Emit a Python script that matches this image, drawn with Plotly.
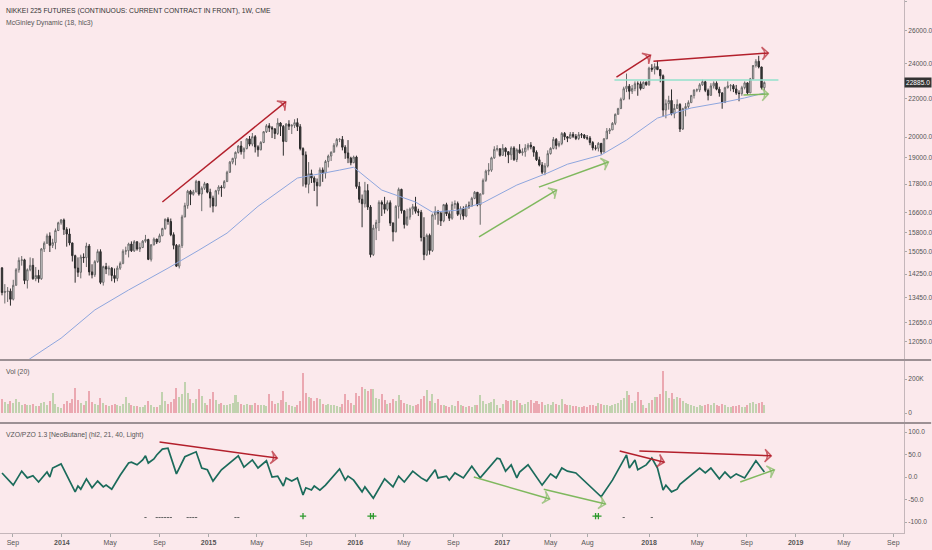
import math
import pandas as pd
import plotly.graph_objects as go

# ---- weekly bars (week starting 2013-08-05), open = previous close ----
first_open = 14470

closes_2013 = [13615, 13650, 13660, 13389, 13860, 14404, 14742, 14760, 14024, 14404, 14561,
               14088, 14201, 14086, 15165, 15381, 15661, 15299, 15403, 15870, 16178, 16291]
highs_2013 = [14500, 13900, 13800, 13750, 14050, 14460, 14850, 14900, 14800, 14450, 14850,
              14820, 14500, 14400, 15200, 15450, 15750, 15800, 15550, 15950, 16220, 16330]
lows_2013 = [13520, 13250, 13300, 13180, 13350, 13850, 14300, 14550, 13900, 13750, 14350,
             14050, 14000, 13950, 14050, 15050, 15350, 15050, 15200, 15150, 15850, 16100]

closes_2014 = [15912, 15734, 15391, 14914, 14462, 14313, 14865, 14841, 15274, 14327, 14224, 14696, 15063,
               13960, 14516, 14429, 14458, 14199, 14097, 14462, 14632, 15077, 15097, 15349, 15095, 15437,
               15164, 15215, 15457, 15523, 14778, 15318, 15539, 15424, 15668, 15948, 16321, 16229, 15708,
               15300, 14532, 15291, 16413, 16880, 17490, 17357, 17459, 17920, 17371, 17621, 17818, 17450]
highs_2014 = [16350, 16000, 15950, 15400, 14950, 14850, 14950, 15000, 15400, 15350, 14600, 14750, 15150,
              15150, 14550, 14650, 14550, 14500, 14450, 14550, 14700, 15150, 15250, 15400, 15450, 15500,
              15450, 15400, 15500, 15700, 15550, 15350, 15600, 15550, 15750, 15980, 16350, 16400, 16350,
              15800, 15350, 15350, 16500, 17000, 17550, 17550, 17550, 17990, 17950, 17700, 17900, 17850]
lows_2014 = [15700, 15250, 15300, 14700, 13950, 14150, 14100, 14650, 14500, 14200, 14100, 14150, 14650,
             13900, 13850, 14250, 14200, 14000, 13950, 14000, 14400, 14600, 14950, 14850, 15050, 15050,
             15100, 15050, 15200, 15400, 14750, 14700, 15300, 15350, 15400, 15650, 15900, 16100, 15650,
             15150, 14500, 14450, 15200, 16400, 16750, 16900, 17300, 17450, 17300, 16650, 17550, 17400]

closes_2015 = [17197, 16864, 17511, 17674, 17648, 17913, 18332, 18797, 18971, 19254, 19560, 19286, 19435,
               19908, 19652, 20020, 19520, 19380, 19733, 20264, 20563, 20461, 20407, 20174, 20706, 20540,
               19780, 20650, 20545, 20585, 20724, 20520, 19436, 19136, 17792, 18264, 18070, 17880, 17725,
               18438, 18291, 18825, 19083, 19265, 19597, 19879, 19883, 19504, 19230, 18986, 18769, 19033]
highs_2015 = [17600, 17300, 17550, 17750, 17750, 17980, 18400, 18850, 19000, 19300, 19600, 19800, 19500,
              19950, 20050, 20200, 20100, 19600, 19800, 20300, 20650, 20700, 20550, 20450, 20950, 20750,
              20600, 20700, 20850, 20650, 20900, 20950, 20650, 19500, 19300, 18800, 18450, 18150, 18050,
              18550, 18550, 18900, 19150, 19300, 19700, 19950, 19950, 20050, 19600, 19850, 19050, 19100]
lows_2015 = [16800, 16600, 16850, 17350, 17250, 17600, 17900, 18300, 18700, 18650, 19200, 19150, 18950,
             19400, 19550, 19550, 19250, 19050, 19350, 19700, 20200, 20250, 19950, 19900, 20100, 20050,
             19100, 19750, 20350, 20150, 20450, 20300, 19350, 17700, 17650, 17400, 17850, 17500, 16850,
             17700, 17900, 18050, 18550, 18850, 19250, 19500, 19750, 19350, 18950, 18750, 18650, 18750]

closes_2016 = [17698, 17147, 16958, 17518, 16819, 14952, 15967, 16188, 17014, 16938, 16724, 17002, 16164,
               15821, 16848, 17572, 16666, 16106, 16412, 16736, 16834, 16642, 16601, 15599, 14952, 15682,
               15106, 16497, 16627, 16569, 16254, 16919, 16545, 16360, 16925, 16965, 16519, 16754, 16449,
               16860, 16856, 17184, 17446, 16905, 17374, 17968, 18381, 18426, 18996, 19401, 19428, 19114]
highs_2016 = [19100, 17900, 17350, 17900, 17800, 16900, 16100, 16300, 17100, 17100, 17250, 17100, 17100,
              16200, 16900, 17650, 17600, 16700, 16750, 16800, 16950, 17250, 16750, 16700, 16400, 15750,
              15750, 16550, 16850, 16700, 16650, 16950, 17000, 16650, 17050, 17100, 17050, 16850, 16850,
              16950, 17050, 17250, 17500, 17450, 17400, 18050, 18450, 18750, 19050, 19550, 19600, 19450]
lows_2016 = [17600, 17000, 16000, 16800, 16700, 14850, 14900, 15500, 15850, 16450, 16550, 16650, 16050,
             15450, 15800, 16350, 16550, 15950, 16050, 16300, 16500, 16550, 16450, 15450, 14750, 14900,
             14950, 15050, 16300, 16100, 16050, 16200, 16450, 16250, 16300, 16750, 16450, 16300, 16300,
             16400, 16750, 16850, 17150, 16850, 16100, 17350, 17900, 18200, 18350, 18950, 19300, 19050]

closes_2017 = [19454, 19287, 19137, 19467, 18918, 19378, 19234, 19283, 19469, 19604, 19521, 19262, 18909,
               18664, 18335, 18620, 19196, 19445, 19883, 19590, 19686, 20177, 20013, 19943, 20132, 20033,
               19929, 20118, 20099, 19959, 19952, 19729, 19470, 19452, 19691, 19274, 19909, 20296, 20356,
               20690, 21155, 21457, 21955, 22539, 22681, 22397, 22550, 22819, 22811, 22553, 22902, 22765]
highs_2017 = [19650, 19500, 19300, 19550, 19550, 19450, 19650, 19450, 19650, 19700, 19750, 19550, 19350,
              19050, 18800, 18750, 19350, 19500, 20000, 19950, 19800, 20250, 20250, 20050, 20250, 20250,
              20150, 20250, 20200, 20150, 20100, 20050, 19800, 19600, 19750, 19700, 19950, 20450, 20450,
              20750, 21200, 21500, 22050, 22650, 23400, 22800, 22750, 22950, 22950, 22950, 22950, 22950]
lows_2017 = [19100, 19050, 18750, 18900, 18850, 18800, 19200, 19100, 19050, 19350, 19400, 19050, 18850,
             18600, 18250, 18200, 18550, 19150, 19400, 19400, 19500, 19600, 19850, 19750, 19900, 19950,
             19850, 19850, 19950, 19900, 19850, 19600, 19350, 19350, 19300, 19150, 19250, 19900, 20150,
             20350, 20600, 21150, 21450, 21900, 22350, 21950, 22250, 22400, 22150, 22450, 22550, 22700]

closes_2018 = [23714, 23653, 23808, 23632, 23274, 21382, 21720, 21893, 21181, 21469, 21676, 20400, 21454,
               21567, 21778, 22162, 22467, 22472, 22758, 22930, 22450, 22171, 22694, 22851, 22516, 22304,
               21788, 22597, 22697, 22712, 22525, 22298, 22270, 22601, 22865, 22307, 23094, 23870, 24120,
               23784, 22600, 22885]
highs_2018 = [23800, 23950, 24000, 24150, 23650, 23350, 21950, 22150, 22500, 21700, 21950, 21750, 21500,
              21750, 21900, 22200, 22500, 22550, 22850, 23050, 23000, 22550, 22850, 22950, 22950, 22650,
              22350, 22650, 22950, 22800, 22800, 22750, 22450, 22700, 22950, 22900, 23150, 23900, 24250,
              24450, 23800, 22950]
lows_2018 = [22700, 23500, 23350, 23600, 22900, 21050, 20950, 21400, 21100, 20950, 21450, 20250, 20350,
             21050, 21450, 21750, 22000, 22350, 22350, 22700, 22350, 21900, 22150, 22550, 22450, 22100,
             21450, 21750, 22550, 22400, 22350, 22200, 21850, 22150, 22500, 22200, 22300, 23050, 23750,
             23700, 22500, 22450]

# weekly volume, thousands of contracts
volume_k = ([80, 62, 55, 70, 58, 85, 62, 48, 55, 50, 45, 52, 40, 44, 60, 65, 48, 72, 115, 52, 38, 30]
            + [55, 70, 60, 85, 145, 75, 60, 50, 70, 130, 65, 55, 50, 90, 60, 45, 40, 50, 55, 45, 40, 55,
               96, 60, 45, 40, 42, 38, 35, 45, 70, 50, 38, 35, 45, 121, 70, 55, 65, 80, 149, 95, 110, 180,
               120, 85, 60, 80, 139, 100, 60, 45]
            + [80, 125, 75, 55, 60, 50, 45, 55, 60, 106, 65, 55, 50, 55, 50, 45, 60, 50, 45, 50, 40, 110,
               70, 55, 60, 75, 129, 65, 45, 40, 38, 45, 70, 233, 120, 95, 86, 70, 86, 80, 55, 50, 55, 45,
               50, 40, 38, 55, 110, 75, 60, 45]
            + [120, 100, 151, 139, 130, 139, 139, 90, 85, 110, 75, 55, 60, 80, 70, 106, 75, 60, 55, 45,
               40, 50, 55, 80, 100, 135, 70, 110, 60, 82, 50, 45, 40, 35, 45, 40, 70, 45, 42, 38, 40, 36,
               45, 50, 106, 70, 55, 60, 65, 80, 45, 30]
            + [55, 76, 70, 76, 72, 76, 60, 50, 55, 65, 75, 60, 70, 55, 65, 50, 55, 45, 65, 55, 45, 80,
               55, 50, 45, 40, 42, 38, 35, 40, 36, 45, 50, 42, 60, 55, 50, 45, 40, 45, 55, 60, 75, 90,
               129, 106, 60, 70, 121, 75, 45, 30]
            + [60, 75, 96, 96, 110, 249, 129, 90, 115, 80, 95, 90, 70, 60, 55, 45, 40, 35, 45, 40, 50,
               55, 45, 60, 45, 40, 55, 45, 38, 35, 40, 42, 45, 35, 38, 45, 60, 65, 55, 60, 67, 50])

# McGinley Dynamic read at turning points (week index, price)
mcg_week = [6, 10, 21, 33, 45, 59, 70, 80, 91, 105, 120, 125, 135, 147, 153, 162, 171, 183, 194, 201,
            213, 222, 233, 245, 257, 264, 271]
mcg_val = [11300, 11560, 12160, 13040, 13700, 14460, 15120, 15770, 16850, 18070, 18430, 18560, 17540,
           17030, 16610, 16690, 17000, 17760, 18300, 18700, 19130, 19850, 20960, 21490, 21810, 22030, 22300]

# VZO line vertices (week index, value)
vzo_week = [0, 4, 7, 9, 11, 13, 16, 17, 18, 21, 26, 27, 28, 30, 32, 34, 36, 37, 39, 42,
            45, 46, 48, 50, 51, 52, 54, 55, 57, 59, 62, 65, 69, 71, 73, 75, 78, 81, 84, 86,
            89, 91, 94, 96, 98, 100, 101, 103, 105, 107, 108, 110, 111, 113, 115, 120, 122, 123, 125, 128,
            129, 132, 136, 139, 141, 143, 146, 149, 151, 154, 155, 158, 159, 161, 164, 167, 170, 176, 177, 179,
            181, 183, 184, 187, 192, 195, 197, 199, 201, 204, 213, 217, 222, 223, 225, 226, 229, 231, 233, 235,
            236, 238, 240, 241, 244, 248, 250, 252, 255, 257, 259, 261, 264, 268, 271]
vzo_val = [9, -18, 13, -2, 3, -11, 11, 0, 20, 29, -33, -20, -27, -4, -24, -9, -22, -18, -27, 4,
           31, 33, 27, 38, 47, 31, 40, 49, 62, 64, 7, 45, 56, 20, 16, -9, 16, 31, 47, 22,
           38, 20, 36, 0, 2, -20, -2, -9, -2, -40, -24, -29, -20, -29, -18, 18, -7, 2, -7, -33,
           -22, -47, -4, -22, 2, -11, 13, -2, -9, 16, -2, 2, -7, 9, -2, 24, -2, 42, 40, 13,
           27, -2, 11, 27, -18, 7, -2, 20, 13, 9, -44, -7, 49, 20, 38, 16, 27, 42, 20, -29,
           -18, -33, -27, -16, 0, 20, 9, 20, -4, 11, -2, 7, -2, 36, 11]
vzo_minus_weeks = [51, 55, 56, 57, 58, 59, 60, 66, 67, 68, 69, 83, 84]
vzo_plus_weeks = [107, 131, 132, 211, 212]
vzo_dot_weeks = [221, 231]

RED = "#b3202c"
GREEN = "#7fb85e"
price_arrows = [
    ("2014-09-08", 17030, "2015-07-12", 21820, RED),
    ("2017-10-12", 23200, "2018-01-05", 24490, RED),
    ("2018-01-12", 24130, "2018-10-25", 24620, RED),
    ("2018-08-24", 22190, "2018-10-25", 22240, GREEN),
    ("2016-11-04", 15620, "2017-05-16", 17540, GREEN),
    ("2017-04-02", 17670, "2017-09-22", 18800, GREEN),
]
osc_arrows = [
    ("2014-09-01", 78, "2015-06-21", 42, RED),
    ("2016-10-22", 0, "2017-04-29", -49, GREEN),
    ("2017-04-14", -27, "2017-09-15", -60, GREEN),
    ("2017-10-20", 58, "2018-02-08", 33, RED),
    ("2017-12-08", 58, "2018-11-01", 47, RED),
    ("2018-08-16", -11, "2018-11-09", 16, GREEN),
]
resistance = ("2017-10-07", "2018-11-19", 23030)
last_price = 22885

price_ticks = [12050, 12650, 13450, 14250, 15050, 15800, 16600, 17800, 19000, 20000, 22000, 24000, 26000, 28000]
date_ticks = ["2013-09-01", "2014-01-01", "2014-05-01", "2014-09-01", "2015-01-01", "2015-05-01", "2015-09-01",
              "2016-01-01", "2016-05-01", "2016-09-01", "2017-01-01", "2017-05-01", "2017-08-01", "2018-01-01",
              "2018-05-01", "2018-09-01", "2019-01-01", "2019-05-01", "2019-09-01"]
date_labels = ["Sep", "<b>2014</b>", "May", "Sep", "<b>2015</b>", "May", "Sep", "<b>2016</b>", "May", "Sep",
               "<b>2017</b>", "May", "Aug", "<b>2018</b>", "May", "Sep", "<b>2019</b>", "May", "Sep"]

closes = closes_2013 + closes_2014 + closes_2015 + closes_2016 + closes_2017 + closes_2018
highs = highs_2013 + highs_2014 + highs_2015 + highs_2016 + highs_2017 + highs_2018
lows = lows_2013 + lows_2014 + lows_2015 + lows_2016 + lows_2017 + lows_2018
opens = [first_open] + closes[:-1]
weeks = pd.date_range("2013-08-05", periods=len(closes), freq="7D")

BG = "#fbe9ec"
FONT = "Liberation Sans Narrow, Liberation Sans, Arial, sans-serif"

fig = go.Figure()

fig.add_trace(go.Candlestick(
    x=weeks, open=opens, high=highs, low=lows, close=closes,
    increasing=dict(line=dict(color="#6a6a6a", width=1), fillcolor="#ffffff"),
    decreasing=dict(line=dict(color="#2b2b2b", width=1), fillcolor="#3a3a3a"),
    xaxis="x", yaxis="y", showlegend=False, hoverinfo="skip"))

fig.add_trace(go.Scatter(x=weeks[mcg_week], y=mcg_val, mode="lines",
                         line=dict(color="#8ea6de", width=1), xaxis="x", yaxis="y",
                         showlegend=False, hoverinfo="skip"))

fig.add_trace(go.Scatter(x=[resistance[0], resistance[1]], y=[resistance[2], resistance[2]], mode="lines",
                         line=dict(color="#93e0cc", width=1.6), xaxis="x", yaxis="y",
                         showlegend=False, hoverinfo="skip"))


def add_arrow(a, yaxis, xaxis):
    fig.add_trace(go.Scatter(
        x=[a[0], a[2]], y=[a[1], a[3]], mode="lines+markers",
        line=dict(color=a[4], width=1.5),
        marker=dict(symbol="arrow-wide-open", size=[0, 9], angleref="previous",
                    color=a[4], line=dict(color=a[4], width=1.5)),
        xaxis=xaxis, yaxis=yaxis, showlegend=False, hoverinfo="skip"))


for a in price_arrows:
    add_arrow(a, "y", "x")

vol_colors = ["rgba(224,128,140,0.62)" if c < o else "rgba(155,195,135,0.6)" for o, c in zip(opens, closes)]
fig.add_trace(go.Bar(x=weeks, y=volume_k, marker=dict(color=vol_colors, line=dict(width=0)),
                     width=5 * 86400000, xaxis="x2", yaxis="y2", showlegend=False, hoverinfo="skip"))

fig.add_trace(go.Scatter(x=weeks[vzo_week], y=vzo_val, mode="lines",
                         line=dict(color="#1b6b5b", width=1.7), xaxis="x3", yaxis="y3",
                         showlegend=False, hoverinfo="skip"))
fig.add_trace(go.Scatter(x=weeks[vzo_minus_weeks], y=[-90] * len(vzo_minus_weeks), mode="markers",
                         marker=dict(symbol="line-ew", size=1.6, line=dict(color="#666", width=1)),
                         xaxis="x3", yaxis="y3", showlegend=False, hoverinfo="skip"))
fig.add_trace(go.Scatter(x=weeks[vzo_dot_weeks], y=[-90] * len(vzo_dot_weeks), mode="markers",
                         marker=dict(symbol="line-ew", size=1.6, line=dict(color="#666", width=1)),
                         xaxis="x3", yaxis="y3", showlegend=False, hoverinfo="skip"))
fig.add_trace(go.Scatter(x=weeks[vzo_plus_weeks], y=[-87] * len(vzo_plus_weeks), mode="markers",
                         marker=dict(symbol="cross-thin", size=4.5, line=dict(color="#2e9a2e", width=1.3)),
                         xaxis="x3", yaxis="y3", showlegend=False, hoverinfo="skip"))

for a in osc_arrows:
    add_arrow(a, "y3", "x3")

# pane geometry (plot area 533 px tall)
H = 533.0
dom_price = [(H - 359) / H, 1.0]
dom_vol = [(H - 422) / H, (H - 361) / H]
dom_osc = [0.0, (H - 424) / H]

xrange = ["2013-07-31", "2019-09-27 12:00"]
tickfont = dict(family=FONT, size=6.6, color="#555")
yax_common = dict(side="right", showline=True, linecolor="#c4b6ba", linewidth=1, ticks="outside",
                  ticklen=2, tickcolor="#aaa", tickfont=tickfont, showgrid=False,
                  zeroline=False, fixedrange=True)
xax_common = dict(range=xrange, type="date", showgrid=False,
                  tickvals=date_ticks, ticktext=date_labels, zeroline=False)

fig.update_layout(
    width=932, height=550,
    margin=dict(l=0, r=26, t=0, b=17),
    paper_bgcolor=BG, plot_bgcolor=BG,
    font=dict(family=FONT, size=7, color="#555"),
    bargap=0,
    xaxis=dict(**xax_common, anchor="y", domain=[0, 1], showticklabels=False,
               rangeslider=dict(visible=False)),
    xaxis2=dict(**xax_common, anchor="y2", domain=[0, 1], matches="x", showticklabels=False),
    xaxis3=dict(**xax_common, anchor="y3", domain=[0, 1], matches="x", showticklabels=True,
                tickfont=dict(family=FONT, size=7, color="#555"), ticks="outside", ticklen=3,
                tickcolor="#aaa", showline=True, linecolor="#c4b6ba"),
    yaxis=dict(**yax_common, domain=dom_price, type="log",
               range=[math.log10(11550), math.log10(28070)],
               tickvals=price_ticks, ticktext=[f"{v}.0" for v in price_ticks]),
    yaxis2=dict(**yax_common, domain=dom_vol, range=[-52.9, 305.9],
                tickvals=[0, 200], ticktext=["0", "200K"]),
    yaxis3=dict(**yax_common, domain=dom_osc, range=[-124.4, 117.8],
                tickvals=[-100, -50, 0, 50, 100], ticktext=["-100.0", "-50.0", "0.0", "50.0", "100.0"]),
)

# pane separators
for py in [(H - 360) / H, (H - 423) / H]:
    fig.add_shape(type="line", xref="paper", yref="paper", x0=0, x1=1.03, y0=py, y1=py,
                  line=dict(color="#9c9094", width=2))

# pane titles
titles = [
    ("NIKKEI 225 FUTURES (CONTINUOUS: CURRENT CONTRACT IN FRONT), 1W, CME", 11, "#333", 6.8),
    ("McGinley Dynamic (18, hlc3)", 23, "#555", 6.8),
    ("Vol (20)", 372, "#555", 6.8),
    ("VZO/PZO 1.3 [NeoButane] (hl2, 21, 40, Light)", 435, "#555", 6.8),
]
for text, ypx, col, fs in titles:
    fig.add_annotation(text=text, xref="paper", yref="paper", x=0.004, y=(H - ypx) / H,
                       xanchor="left", yanchor="middle", showarrow=False,
                       font=dict(family=FONT, size=fs, color=col))

# last price label on the price scale
fig.add_annotation(text=f"{last_price}.0", xref="paper", yref="y", x=1.0, y=math.log10(last_price),
                   xanchor="left", yanchor="middle", showarrow=False, bgcolor="#333333",
                   borderpad=1, font=dict(family=FONT, size=6.6, color="#ffffff"))

fig.write_html("out.html", config={"displayModeBar": False},
               post_script="document.body.style.margin='0';document.body.style.padding='0';")
